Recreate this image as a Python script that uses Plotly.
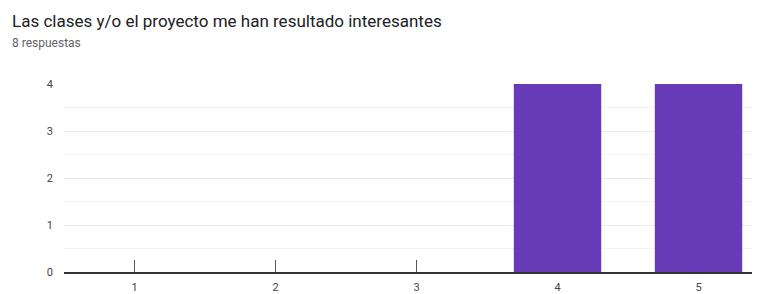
import plotly.graph_objects as go

categories = ["1", "2", "3", "4", "5"]
counts = [0, 0, 0, 4, 4]
title_text = "Las clases y/o el proyecto me han resultado interesantes"
subtitle_text = "8 respuestas"

W, H = 760, 294
ML, MR, MT, MB = 56, 8, 76, 28
PW, PH = W - ML - MR, H - MT - MB

fig = go.Figure(go.Bar(
    x=[int(c) for c in categories], y=counts,
    marker=dict(color="#673ab7", line=dict(width=0)),
    width=0.62,
))

fig.update_layout(
    width=W, height=H,
    margin=dict(l=ML, r=MR, t=MT, b=MB),
    paper_bgcolor="white", plot_bgcolor="white",
    font=dict(family="Roboto", color="#444444", size=11),
    showlegend=False,
)
fig.add_annotation(text=title_text, xref="paper", yref="paper", x=(2 - ML) / PW, y=1 + (MT - 12) / PH,
                   xanchor="left", yanchor="middle", showarrow=False,
                   font=dict(family="Roboto", size=17, color="#202124"))
fig.add_annotation(text=subtitle_text, xref="paper", yref="paper", x=(2 - ML) / PW, y=1 + (MT - 35) / PH,
                   xanchor="left", yanchor="middle", showarrow=False,
                   font=dict(family="Roboto", size=12, color="#5f6368"))

fig.update_xaxes(
    range=[0.5, 5.436], tickvals=[1, 2, 3, 4, 5], ticktext=categories,
    ticks="inside", ticklen=12, tickcolor="#555555", tickwidth=1,
    showline=True, linecolor="#333333", linewidth=1.5,
    showgrid=False, zeroline=False, layer="below traces",
    ticklabelstandoff=4,
    tickfont=dict(size=11, color="#444444"),
)
fig.update_yaxes(
    range=[0, 4], tickvals=[0, 1, 2, 3, 4],
    showgrid=True, gridcolor="#ebebeb", gridwidth=1,
    minor=dict(dtick=0.5, showgrid=True, gridcolor="#f2f2f2", gridwidth=1),
    zeroline=False, showline=False, ticks="", ticklabelstandoff=10,
    tickfont=dict(size=11, color="#444444"),
)

fig.write_html("out.html")
